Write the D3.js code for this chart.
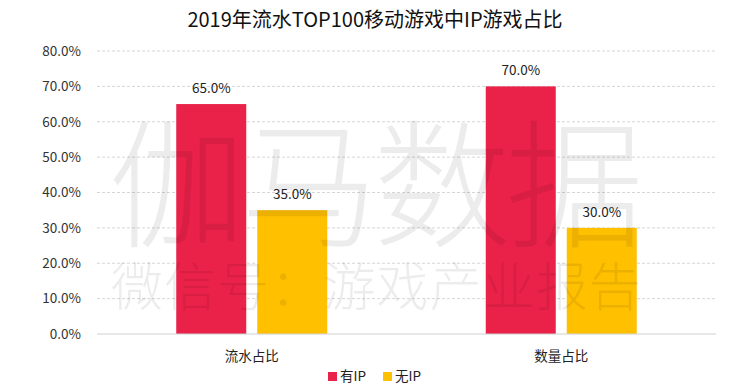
<!DOCTYPE html>
<html><head><meta charset="utf-8">
<script src="https://cdn.jsdelivr.net/npm/d3@7"></script>
<style>body{margin:0;background:#fff}svg{display:block;font-family:"Noto Sans CJK SC","Noto Sans",sans-serif}</style>
</head><body><svg id="c" width="750" height="390"></svg>
<script>
const categories = ["流水占比", "数量占比"];
const seriesNames = ["有IP", "无IP"];
const withIP = [65.0, 70.0];
const withoutIP = [35.0, 30.0];
const yTicks = [0, 10, 20, 30, 40, 50, 60, 70, 80];
const colors = ["#EA2149", "#FFC000"];

const svg = d3.select("#c");
const m = {l: 97, r: 716, t: 51, b: 334};
const x = d3.scaleBand().domain(categories).range([m.l, m.r]);
const x1 = d3.scaleBand().domain(seriesNames).range([0, 151]).paddingInner(11 / 81);
const y = d3.scaleLinear().domain([0, 80]).range([m.b, m.t]);

svg.append("text").attr("x", 375).attr("y", 27).attr("text-anchor", "middle")
  .attr("font-size", 20).attr("fill", "#111").text("2019年流水TOP100移动游戏中IP游戏占比");

// grid
svg.append("g").selectAll("line").data(yTicks.filter(d => d > 0)).join("line")
  .attr("x1", m.l).attr("x2", m.r).attr("y1", d => y(d)).attr("y2", d => y(d))
  .attr("stroke", "#d6d6d6").attr("stroke-dasharray", "3,2");

const yAxis = svg.append("g").attr("transform", `translate(${m.l},0)`)
  .call(d3.axisLeft(y).tickValues(yTicks).tickFormat(d => d.toFixed(1) + "%").tickSize(0).tickPadding(16));
yAxis.select(".domain").remove();
yAxis.selectAll("text").attr("font-size", 13.5).attr("fill", "#333").attr("font-family", '"Noto Sans CJK SC",sans-serif');

// watermark (behind bars' labels but drawn over bars faintly)
const data = categories.map((c, i) => ({c, vals: [withIP[i], withoutIP[i]]}));
const groups = svg.append("g").selectAll("g").data(data).join("g")
  .attr("transform", d => `translate(${x(d.c) + x.bandwidth() / 2 - 75.5},0)`);
groups.selectAll("rect").data(d => d.vals.map((v, j) => ({v, s: seriesNames[j], j}))).join("rect")
  .attr("x", d => x1(d.s)).attr("width", x1.bandwidth())
  .attr("y", d => y(d.v)).attr("height", d => y(0) - y(d.v)).attr("fill", d => colors[d.j]);

const wm = svg.append("g").attr("pointer-events", "none").attr("fill", "#000").attr("fill-opacity", 0.075)
  .attr("font-family", '"Noto Sans CJK SC",sans-serif').attr("font-weight", 300);
wm.append("text").attr("x", 376).attr("y", 236).attr("text-anchor", "middle").attr("font-size", 138)
  .attr("textLength", 535).text("伽马数据");
wm.append("text").attr("x", 376).attr("y", 306).attr("text-anchor", "middle").attr("font-size", 52)
  .attr("textLength", 530).text("微信号：游戏产业报告");

groups.selectAll("text").data(d => d.vals.map((v, j) => ({v, s: seriesNames[j]}))).join("text")
  .attr("x", d => x1(d.s) + x1.bandwidth() / 2).attr("y", d => y(d.v) - 11)
  .attr("text-anchor", "middle").attr("font-size", 13.5).attr("fill", "#222").text(d => d.v.toFixed(1) + "%");

// baseline
svg.append("line").attr("x1", m.l).attr("x2", m.r).attr("y1", y(0)).attr("y2", y(0)).attr("stroke", "#d0d0d0");

// x axis labels
const xAxis = svg.append("g").attr("transform", `translate(0,${y(0)})`)
  .call(d3.axisBottom(x).tickSize(0).tickPadding(17));
xAxis.select(".domain").remove();
xAxis.selectAll("text").attr("font-size", 13.5).attr("fill", "#222").attr("font-family", '"Noto Sans CJK SC",sans-serif');

// legend
const lg = svg.append("g").attr("transform", "translate(328,381)");
const items = [{n: seriesNames[0], c: colors[0], x: 0}, {n: seriesNames[1], c: colors[1], x: 55}];
items.forEach(it => {
  lg.append("rect").attr("x", it.x).attr("y", -9).attr("width", 9).attr("height", 9).attr("fill", it.c);
  lg.append("text").attr("x", it.x + 12).attr("y", 0).attr("font-size", 13.5).attr("fill", "#222").text(it.n);
});
</script></body></html>
